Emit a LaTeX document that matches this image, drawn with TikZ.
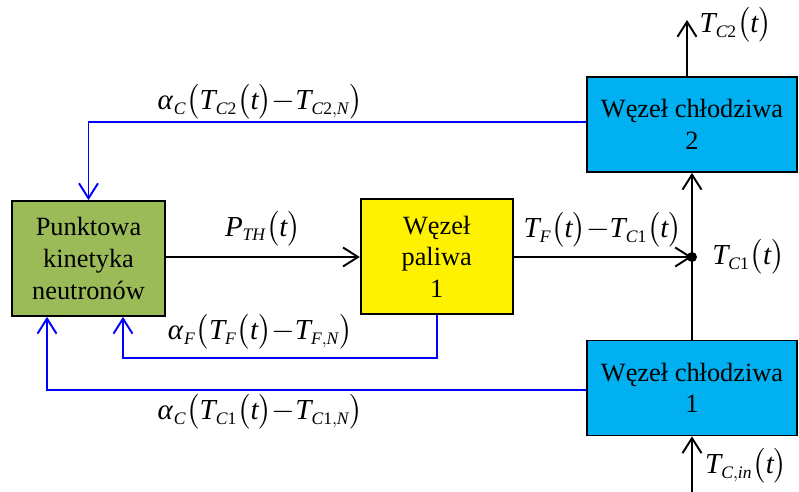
\documentclass[tikz,border=0pt]{standalone}
\usepackage{amsmath,amssymb}
\usepackage{mathspec}
\setmainfont{Liberation Serif}
\setmathsfont(Digits,Latin,Greek)[Scale=1]{Liberation Serif}
\setmathrm{Liberation Serif}
\DeclareMathSizes{16.5}{16.5}{10}{8}
\usetikzlibrary{arrows.meta,calc}
\definecolor{kinGreen}{HTML}{9BBB59}
\definecolor{coolCyan}{HTML}{00B0F0}
\tikzstyle{block}=[draw=black, line width=1pt, align=center, inner sep=0pt, font=\fontsize{15}{18}\selectfont]
\tikzstyle{arr}=[line width=1.1pt, -{Straight Barb[length=3mm,width=3.8mm,line width=1.1pt]}]
\tikzstyle{fb}=[blue, line width=1.1pt, -{Straight Barb[length=3mm,width=3.8mm,line width=1.1pt]}]
\tikzstyle{lab}=[font=\fontsize{16.5}{19}\selectfont]
\newcommand{\pxx}{0.02cm}
\newcommand{\mn}{\mathord{-}}

\begin{document}
\begin{tikzpicture}[x=\pxx, y=-\pxx]
\useasboundingbox (0,0) rectangle (799,492);
% bloki
\node[block, fill=kinGreen, minimum width=3.06cm, minimum height=2.3cm] (kin) at (88.5,258.5) {Punktowa\\kinetyka\\neutronów};
\node[block, fill=yellow, minimum width=3.04cm, minimum height=2.3cm] (fuel) at (436.7,256.5) {Węzeł\\paliwa\\1};
\node[block, fill=coolCyan, minimum width=4.2cm, minimum height=1.9cm] (cool2) at (692,124.5) {Węzeł chłodziwa\\2};
\node[block, fill=coolCyan, minimum width=4.2cm, minimum height=1.9cm] (cool1) at (692,388) {Węzeł chłodziwa\\1};
\coordinate (junc) at (692,257);
\coordinate (out2) at (687,20);
\coordinate (in1) at (692,492);
\coordinate (fbF) at (123,358);
\coordinate (fbC) at (47,390);
\coordinate (fbT) at (88.5,122);
% sygnaly
\draw[arr] (kin.east |- junc) -- node[lab, above=2pt] {$P_{TH}\bigl(t\bigr)$} (fuel.west |- junc);
\draw[arr] (fuel.east |- junc) -- node[lab, above=1pt] {$T_F\bigl(t\bigr)\mn T_{C1}\bigl(t\bigr)$} (junc);
\fill (junc) circle (5);
\node[lab, right=8pt] (tc1) at (junc) {$T_{C1}\bigl(t\bigr)$};
\draw[arr] (cool1.north) -- (cool2.south);
\draw[arr] (out2 |- cool2.north) -- (out2);
\node[lab, inner sep=0pt, right=7pt] (tc2) at ($(out2)+(0,5)$) {$T_{C2}\bigl(t\bigr)$};
\draw[arr] (in1) -- (cool1.south);
\node[lab, right=4pt] (tcin) at (692,466) {$T_{C,in}\bigl(t\bigr)$};
% sprzezenia
\draw[fb] (cool2.west |- fbT) -- (fbT) -- (kin.north -| fbT);
\draw[fb] (fuel.south) |- (fbF) -- (fbF |- kin.south);
\draw[fb] (cool1.west |- fbC) -- (fbC) -- (fbC |- kin.south);
\node[lab] (aC2) at (260,102) {$\alpha_C\bigl(T_{C2}\bigl(t\bigr)\mn T_{C2,N}\bigr)$};
\node[lab] (aF) at (260,332) {$\alpha_F\bigl(T_F\bigl(t\bigr)\mn T_{F,N}\bigr)$};
\node[lab] (aC1) at (260,412) {$\alpha_C\bigl(T_{C1}\bigl(t\bigr)\mn T_{C1,N}\bigr)$};
\end{tikzpicture}
\end{document}
